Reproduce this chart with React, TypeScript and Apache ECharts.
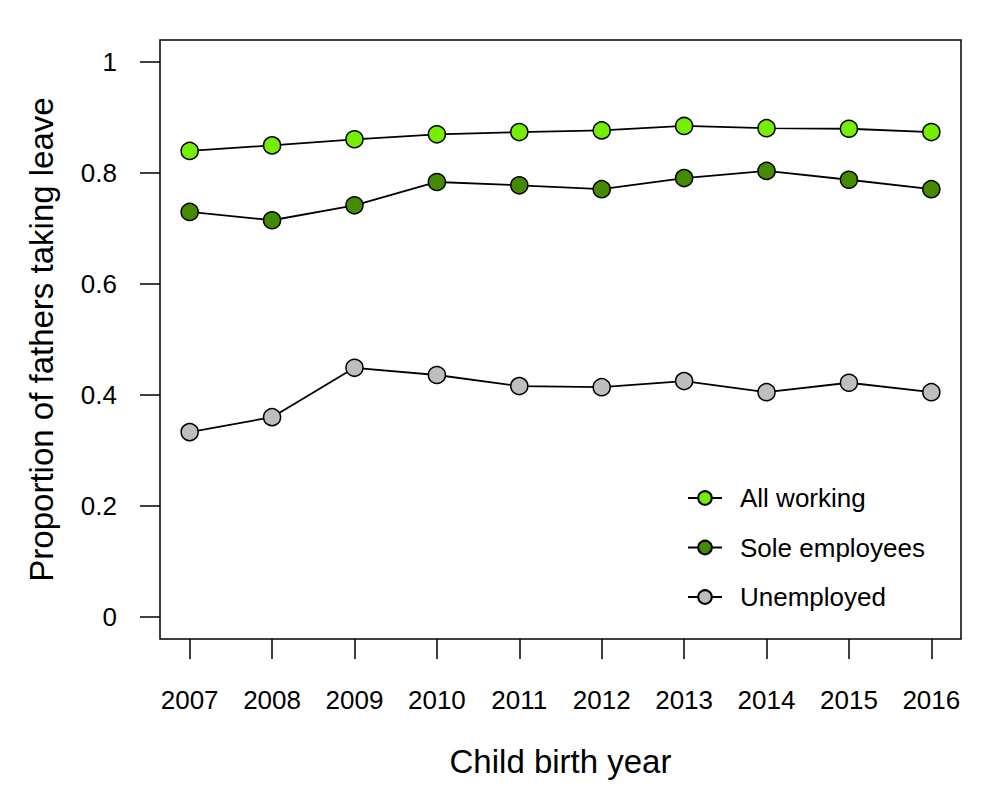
import React, { useEffect, useRef } from "react";
import * as echarts from "echarts";

const years = [2007, 2008, 2009, 2010, 2011, 2012, 2013, 2014, 2015, 2016];
const allWorking = [0.84, 0.85, 0.861, 0.87, 0.874, 0.877, 0.885, 0.881, 0.88, 0.874];
const soleEmployees = [0.73, 0.715, 0.742, 0.784, 0.778, 0.771, 0.791, 0.804, 0.788, 0.771];
const unemployed = [0.333, 0.36, 0.449, 0.436, 0.416, 0.414, 0.425, 0.405, 0.422, 0.405];
const yTicks = [0, 0.2, 0.4, 0.6, 0.8, 1];
const yTickLabels = ["0", "0.2", "0.4", "0.6", "0.8", "1"];

const FONT = "'Liberation Sans', Arial, Helvetica, sans-serif";

export default function App() {
  const ref = useRef<HTMLDivElement>(null);
  useEffect(() => {
    if (!ref.current) return;
    const chart = echarts.init(ref.current, undefined, { renderer: "svg" });
    const mk = (name: string, data: number[], color: string) => ({
      name,
      type: "line",
      data: years.map((y, i) => [y, data[i]]),
      symbol: "circle",
      symbolSize: 17,
      lineStyle: { color: "#000", width: 1.8 },
      itemStyle: { color, borderColor: "#000", borderWidth: 1.5 },
      emphasis: { disabled: true },
    });
    chart.setOption({
      animation: false,
      backgroundColor: "#fff",
      textStyle: { fontFamily: FONT },
      grid: {
        left: 160,
        right: 39,
        top: 40,
        bottom: 161,
        show: true,
        borderColor: "#000",
        borderWidth: 1.5,
        backgroundColor: "transparent",
      },
      legend: {
        orient: "vertical",
        left: 682,
        top: 480,
        itemWidth: 34,
        itemHeight: 17,
        itemGap: 23.5,
        textStyle: { fontSize: 26, color: "#000", fontFamily: FONT, lineHeight: 26, padding: [0, 0, 0, 13] },
        data: ["All working", "Sole employees", "Unemployed"],
      },
      xAxis: {
        type: "value",
        min: 2006.64,
        max: 2016.36,
        name: "Child birth year",
        nameLocation: "middle",
        nameGap: 106,
        nameTextStyle: { fontSize: 33, color: "#000", fontFamily: FONT },
        splitLine: { show: false },
        axisLine: { show: false, onZero: false },
        axisTick: {
          show: true,
          length: 20,
          lineStyle: { color: "#000", width: 1.5 },
          customValues: years,
        },
        axisLabel: {
          customValues: years,
          formatter: (v: number) => String(v),
          fontSize: 26,
          color: "#000",
          margin: 48,
          fontFamily: FONT,
        },
      },
      yAxis: {
        type: "value",
        min: -0.04,
        max: 1.04,
        name: "Proportion of fathers taking leave",
        nameLocation: "middle",
        nameGap: 102,
        nameTextStyle: { fontSize: 33, color: "#000", fontFamily: FONT },
        splitLine: { show: false },
        axisLine: { show: false, onZero: false },
        axisTick: {
          show: true,
          length: 20,
          lineStyle: { color: "#000", width: 1.5 },
          customValues: yTicks,
        },
        axisLabel: {
          customValues: yTicks,
          formatter: (v: number) => {
            const i = yTicks.findIndex((t) => Math.abs(t - v) < 1e-6);
            return i >= 0 ? yTickLabels[i] : "";
          },
          fontSize: 26,
          color: "#000",
          margin: 43,
          fontFamily: FONT,
        },
      },
      series: [
        mk("All working", allWorking, "#76EE00"),
        mk("Sole employees", soleEmployees, "#458B00"),
        mk("Unemployed", unemployed, "#BEBEBE"),
      ],
    });
    return () => chart.dispose();
  }, []);
  return <div ref={ref} style={{ width: 1000, height: 800, position: "absolute", left: 0, top: 0 }} />;
}
